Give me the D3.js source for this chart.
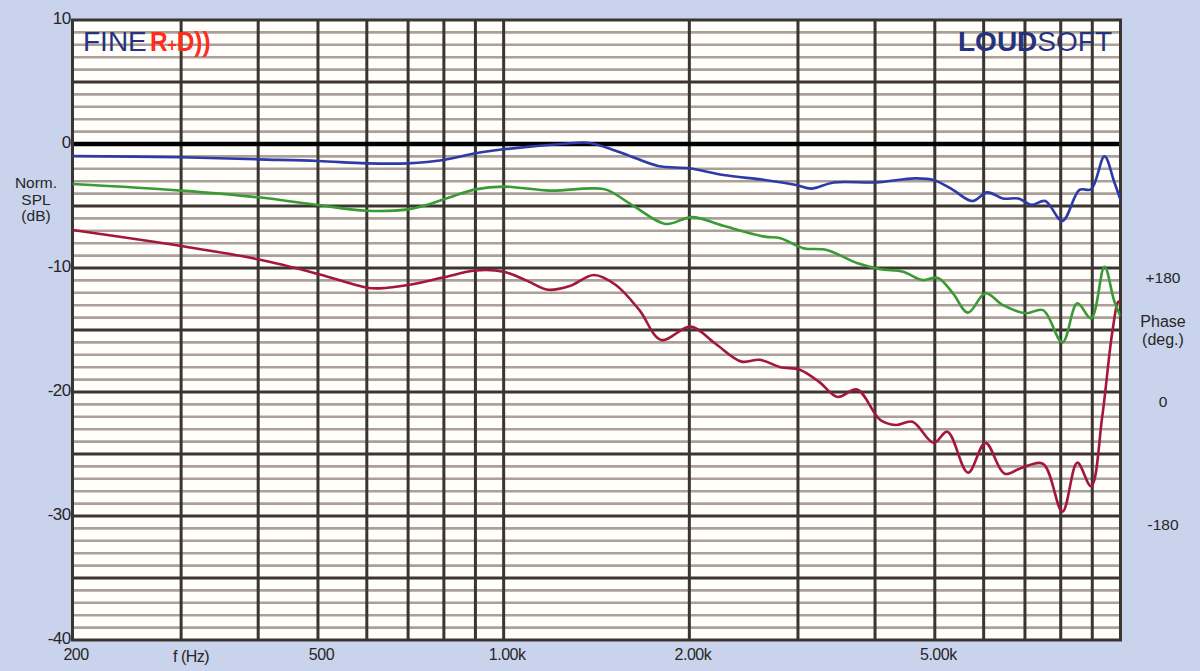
<!DOCTYPE html>
<html>
<head>
<meta charset="utf-8">
<script src="https://cdn.jsdelivr.net/npm/d3@7"></script>
<style>
  html, body { margin: 0; padding: 0; background: #c9d3ec; }
  svg { display: block; }
  text { font-family: "Liberation Sans", Arial, Helvetica, sans-serif; fill: #262626; }
</style>
</head>
<body>
<svg id="chart" width="1200" height="671"></svg>
<script>
// ---------- DATA ----------
const blueFreq = [200, 300, 400, 500, 600, 700, 800, 900, 1000, 1240, 1370, 1470, 1590, 1780, 2000, 2270, 2650, 2980, 3150, 3430, 4020, 4640, 4980, 5350, 5750, 6080, 6450, 6830, 7170, 7550, 8050, 8580, 8960, 9420, 9760, 10000];
const blueDb   = [-0.97, -1.07, -1.24, -1.37, -1.56, -1.56, -1.29, -0.75, -0.43, 0.0, 0.1, -0.3, -0.9, -1.77, -1.96, -2.5, -2.9, -3.3, -3.6, -3.1, -3.1, -2.77, -2.9, -3.7, -4.6, -3.9, -4.4, -4.4, -4.9, -4.6, -6.2, -3.7, -3.65, -1.0, -3.0, -4.5];

const greenFreq = [200, 300, 400, 500, 600, 700, 750, 830, 900, 1000, 1190, 1390, 1470, 1630, 1830, 2020, 2270, 2650, 2810, 3060, 3340, 3740, 4080, 4440, 4770, 5060, 5350, 5660, 6040, 6450, 7020, 7490, 8050, 8510, 8960, 9420, 9760, 10000];
const greenDb   = [-3.23, -3.76, -4.3, -4.92, -5.38, -5.27, -4.92, -4.19, -3.66, -3.44, -3.76, -3.58, -3.7, -5.05, -6.45, -5.9, -6.6, -7.47, -7.6, -8.4, -8.55, -9.6, -10.1, -10.3, -10.97, -10.8, -12.04, -13.6, -12.04, -13.0, -13.65, -13.4, -16.0, -12.85, -14.06, -9.9, -12.6, -13.9];

const redFreq = [200, 300, 400, 500, 600, 630, 700, 800, 900, 1000, 1090, 1180, 1280, 1400, 1520, 1660, 1800, 2010, 2200, 2430, 2600, 2810, 3020, 3250, 3480, 3740, 4080, 4320, 4600, 4980, 5240, 5660, 6040, 6490, 6920, 7490, 8050, 8510, 8960, 9340, 9690, 9920, 10000];
const redDb   = [-6.94, -8.23, -9.3, -10.48, -11.59, -11.64, -11.37, -10.75, -10.2, -10.3, -11.02, -11.75, -11.45, -10.56, -11.37, -13.4, -15.8, -14.73, -16.07, -17.55, -17.4, -18.0, -18.2, -19.2, -20.4, -19.8, -22.26, -22.66, -22.4, -24.1, -23.2, -26.5, -24.1, -26.6, -26.1, -25.8, -29.65, -25.7, -27.6, -22.0, -15.3, -12.7, -13.0];

const xTickValues = [200, 500, 1000, 2000, 5000];
const xTickLabels = ["200", "500", "1.00k", "2.00k", "5.00k"];
const xAxisTitleFreq = 300;         // "f (Hz)" sits under the 300 Hz grid line
const xGridFreqs = [300, 400, 500, 600, 700, 800, 900, 1000, 2000, 3000, 4000, 5000, 6000, 7000, 8000, 9000];
const yTickValues = [10, 0, -10, -20, -30, -40];
const phaseTickValues = [180, 0, -180];
const phaseTickLabels = ["+180", "0", "-180"];

// ---------- LAYOUT ----------
const svg = d3.select("#chart");
const W = 1200, H = 671;
const plot = { left: 72.5, right: 1120.5, top: 20, bottom: 640 };

const x = d3.scaleLog().domain([200, 10000]).range([plot.left, plot.right]);
const y = d3.scaleLinear().domain([10, -40]).range([plot.top, plot.bottom]);
const phaseY = d3.scaleLinear().domain([180, -180]).range([277, 524]);

svg.append("rect").attr("width", W).attr("height", H).attr("fill", "#c9d3ec");
svg.append("rect")
  .attr("x", plot.left).attr("y", plot.top)
  .attr("width", plot.right - plot.left).attr("height", plot.bottom - plot.top)
  .attr("fill", "#fffefa");

// minor horizontal grid (every 1 dB)
const minorDb = d3.range(-39, 10, 1).filter(v => v % 5 !== 0);
svg.append("g").selectAll("line").data(minorDb).join("line")
  .attr("x1", plot.left).attr("x2", plot.right)
  .attr("y1", d => y(d)).attr("y2", d => y(d))
  .attr("stroke", "#ab9f99").attr("stroke-width", 2.6);

// vertical grid
svg.append("g").selectAll("line").data(xGridFreqs).join("line")
  .attr("x1", d => x(d)).attr("x2", d => x(d))
  .attr("y1", plot.top).attr("y2", plot.bottom)
  .attr("stroke", "#3b3532").attr("stroke-width", 3);

// major horizontal grid (every 5 dB)
const majorDb = d3.range(-35, 10, 5).filter(v => v !== 0);
svg.append("g").selectAll("line").data(majorDb).join("line")
  .attr("x1", plot.left).attr("x2", plot.right)
  .attr("y1", d => y(d)).attr("y2", d => y(d))
  .attr("stroke", "#3b3532").attr("stroke-width", 3);

// 0 dB line
svg.append("line")
  .attr("x1", plot.left).attr("x2", plot.right)
  .attr("y1", y(0)).attr("y2", y(0))
  .attr("stroke", "#000").attr("stroke-width", 4.5);

// frame
svg.append("rect")
  .attr("x", plot.left).attr("y", plot.top)
  .attr("width", plot.right - plot.left).attr("height", plot.bottom - plot.top)
  .attr("fill", "none").attr("stroke", "#3b3532").attr("stroke-width", 3);

// ---------- CURVES ----------
svg.append("clipPath").attr("id", "clip").append("rect")
  .attr("x", plot.left).attr("y", plot.top)
  .attr("width", plot.right - plot.left).attr("height", plot.bottom - plot.top);

const line = d3.line()
  .x(d => x(d[0])).y(d => y(d[1]))
  .curve(d3.curveCatmullRom.alpha(0.5));

const series = [
  { f: redFreq,   v: redDb,   color: "#a3173a" },
  { f: greenFreq, v: greenDb, color: "#3a9a35" },
  { f: blueFreq,  v: blueDb,  color: "#2d3aa8" }
];
const curves = svg.append("g").attr("clip-path", "url(#clip)");
series.forEach(s => {
  curves.append("path")
    .datum(d3.zip(s.f, s.v))
    .attr("d", line)
    .attr("fill", "none")
    .attr("stroke", s.color)
    .attr("stroke-width", 2.6)
    .attr("stroke-linejoin", "round");
});

// ---------- AXES / LABELS ----------
const yAxis = d3.axisLeft(y).tickValues(yTickValues).tickSize(0).tickPadding(2).tickFormat(d => String(d));
const gy = svg.append("g").attr("transform", `translate(${plot.left},-2)`).call(yAxis);
gy.select(".domain").remove();
gy.selectAll("text").attr("font-size", 17).attr("fill", "#262626")
  .style("font-family", "'Liberation Sans', Arial, sans-serif").attr("letter-spacing", -0.6);

const xAxis = d3.axisBottom(x).tickValues(xTickValues).tickSize(0).tickPadding(9)
  .tickFormat((d, i) => xTickLabels[i]);
const gx = svg.append("g").attr("transform", `translate(0,${plot.bottom})`).call(xAxis);
gx.select(".domain").remove();
gx.selectAll("text").attr("font-size", 16).attr("fill", "#262626")
  .style("font-family", "'Liberation Sans', Arial, sans-serif").attr("letter-spacing", -0.5)
  .attr("dx", 3);

svg.append("text").attr("x", x(xAxisTitleFreq) + 10).attr("y", plot.bottom + 22)
  .attr("text-anchor", "middle").attr("font-size", 16).attr("letter-spacing", -0.5).text("f (Hz)");

// left title
const leftTitle = ["Norm.", "SPL", "(dB)"];
svg.append("g").selectAll("text").data(leftTitle).join("text")
  .attr("x", 36).attr("y", (d, i) => 188 + i * 16.5)
  .attr("text-anchor", "middle").attr("font-size", 15.5).text(d => d);

// right phase axis labels
svg.append("g").selectAll("text").data(phaseTickValues).join("text")
  .attr("x", 1163).attr("y", d => phaseY(d) + 6)
  .attr("text-anchor", "middle").attr("font-size", 15.5).text((d, i) => phaseTickLabels[i]);
const rightTitle = ["Phase", "(deg.)"];
svg.append("g").selectAll("text").data(rightTitle).join("text")
  .attr("x", 1163).attr("y", (d, i) => 327 + i * 18)
  .attr("text-anchor", "middle").attr("font-size", 16).text(d => d);

// ---------- LOGOS ----------
svg.append("text").attr("x", 83).attr("y", 51).attr("font-size", 28)
  .style("fill", "#27327e").text("FINE");
const rd = svg.append("text").attr("transform", "translate(150,51) scale(0.87,1)")
  .attr("font-size", 28).attr("font-weight", "bold")
  .style("fill", "#ff2b1c");
rd.append("tspan").text("R");
rd.append("tspan").attr("font-size", 18).text("+");
rd.append("tspan").text("D))");

const loud = svg.append("text").attr("x", 1112).attr("y", 51).attr("font-size", 28)
  .attr("text-anchor", "end");
loud.append("tspan").attr("font-weight", "bold").style("fill", "#27327e").text("LOUD");
loud.append("tspan").style("fill", "#27327e").text("SOFT");
</script>
</body>
</html>
